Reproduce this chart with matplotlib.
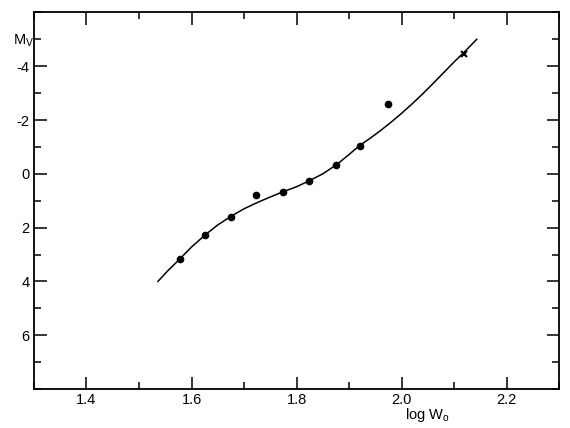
import numpy as np
import matplotlib
matplotlib.use("Agg")
import matplotlib.pyplot as plt
from matplotlib.ticker import MultipleLocator

plt.rcParams['font.family'] = ['Liberation Sans', 'DejaVu Sans']
plt.rcParams['axes.unicode_minus'] = False
plt.rcParams['mathtext.default'] = 'regular'

# observed points (log W0, Mv)
logw_dots = [1.578, 1.625, 1.676, 1.723, 1.774, 1.824, 1.875, 1.920, 1.975]
mv_dots = [3.16, 2.27, 1.59, 0.78, 0.67, 0.26, -0.33, -1.05, -2.59]

# cross point
logw_star = [2.118]
mv_star = [-4.46]

# calibration curve
logw_curve = [1.536, 1.555, 1.578, 1.600, 1.626, 1.650, 1.676, 1.700, 1.725,
              1.750, 1.774, 1.800, 1.824, 1.850, 1.877, 1.900, 1.920, 1.940,
              1.960, 1.980, 2.000, 2.020, 2.040, 2.060, 2.080, 2.100, 2.118,
              2.143]
mv_curve = [4.00, 3.60, 3.16, 2.72, 2.27, 1.90, 1.57, 1.30, 1.07,
            0.86, 0.67, 0.48, 0.26, 0.00, -0.35, -0.72, -1.05, -1.32,
            -1.61, -1.92, -2.25, -2.60, -2.97, -3.36, -3.76, -4.16, -4.50,
            -5.00]

fig = plt.figure(figsize=(5.7, 4.28), dpi=100)
ax = fig.add_axes([0.0596, 0.0911, 0.9214, 0.8799])

ax.plot(logw_curve, mv_curve, color="black", linewidth=1.1)
ax.plot(logw_dots, mv_dots, "o", color="black", markersize=4.5)
ax.plot(logw_star, mv_star, "x", color="black", markersize=5, markeredgewidth=1.5)

ax.set_xlim(1.3, 2.3)
ax.set_ylim(8, -6)
ax.xaxis.set_minor_locator(MultipleLocator(0.1))
ax.yaxis.set_minor_locator(MultipleLocator(1))
ax.set_xticks([1.4, 1.6, 1.8, 2.0, 2.2])
ax.set_xticklabels(["1.4", "1.6", "1.8", "2.0", "2.2"])
ax.set_yticks([-4, -2, 0, 2, 4, 6])
ax.set_yticklabels(["-4", "-2", "0", "2", "4", "6"])

ax.tick_params(which="both", direction="in", top=True, right=True, width=1.1,
               labelsize=10.5, colors="black")
ax.tick_params(which="major", length=9, pad=3)
ax.tick_params(which="minor", length=5)
for s in ax.spines.values():
    s.set_linewidth(1.3)

fig.text(0.042, 0.905, r"M$_V$", fontsize=10.5, ha="center", va="center")
fig.text(0.749, 0.031, r"log W$_o$", fontsize=10.5, ha="center", va="center")

plt.savefig("out.png", dpi=100)
